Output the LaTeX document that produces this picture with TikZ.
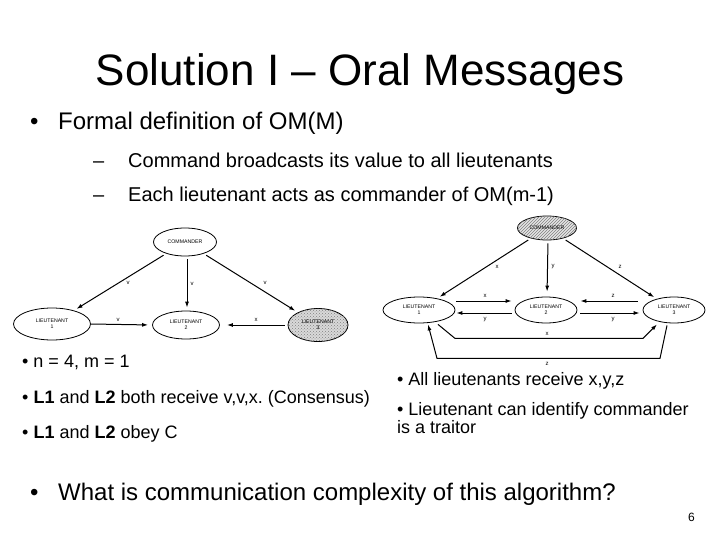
\documentclass[tikz,border=0pt]{standalone}
\usepackage{fontspec}
\setmainfont{Liberation Sans}
\usetikzlibrary{shapes.geometric,arrows.meta,patterns}
\frenchspacing
\begin{document}
\begin{tikzpicture}[x=1pt,y=-1pt,
  txt/.style={anchor=base west,inner sep=0pt},
  elli/.style={ellipse,draw,line width=0.8pt,inner sep=0pt,align=center,font=\fontsize{5.2}{5.8}\selectfont},
  arr/.style={line width=1pt,-{Latex[length=6pt,width=4pt]}},
  lab/.style={inner sep=0pt,font=\fontsize{6}{7}\selectfont},
  small/.style={font=\fontsize{18}{21}\selectfont}]
\useasboundingbox (0,0) rectangle (720,540);
% title
\node[anchor=base,inner sep=0pt,font=\fontsize{44}{50}\selectfont] (title) at (360,86) {Solution I – Oral Messages};
% bullets
\node[txt,font=\fontsize{24}{28}\selectfont] (b0) at (30,130) {•};
\node[txt,font=\fontsize{24}{28}\selectfont] (t1) at (58,130) {Formal definition of OM(M)};
\node[txt,font=\fontsize{20}{24}\selectfont] (d1) at (93,168) {–};
\node[txt,font=\fontsize{20}{24}\selectfont] (t2) at (128,168) {Command broadcasts its value to all lieutenants};
\node[txt,font=\fontsize{20}{24}\selectfont] (d2) at (93,202) {–};
\node[txt,font=\fontsize{20}{24}\selectfont] (t3) at (128,202) {Each lieutenant acts as commander of OM(m-1)};
% left diagram
\node[elli,minimum width=63pt,minimum height=28pt] (cA) at (185,242) {COMMANDER};
\node[elli,minimum width=77pt,minimum height=32pt] (a1) at (52,324) {LIEUTENANT\\1};
\node[elli,minimum width=67pt,minimum height=28pt] (a2) at (186,325) {LIEUTENANT\\2};
\node[elli,minimum width=60pt,minimum height=33pt,fill=gray!30,postaction={pattern=crosshatch dots,pattern color=gray}] (a3) at (318,325) {LIEUTENANT\\3};
\draw[arr,shorten <=3pt,shorten >=3pt] (cA) -- (a1);
\draw[arr,shorten <=3pt,shorten >=3pt] ([xshift=2pt]cA.south) -- ([xshift=1pt]a2.north);
\draw[arr,shorten <=3pt,shorten >=3pt] (cA) -- (a3);
\draw[arr,shorten >=4pt] (a1.east) -- (a2.west);
\draw[arr,shorten <=3pt,shorten >=7pt] (a3.west) -- (a2.east);
\node[lab] (la1) at (128,283) {v};
\node[lab] (la2) at (192,284) {v};
\node[lab] (la3) at (265,283) {v};
\node[lab] (la4) at (118,320) {v};
\node[lab] (la5) at (256,320) {x};
% right diagram
\node[elli,minimum width=59pt,minimum height=24pt,fill=gray!20,postaction={pattern=north east lines,pattern color=gray}] (cB) at (547,228) {COMMANDER};
\node[elli,minimum width=72pt,minimum height=26pt] (b1) at (419,310) {LIEUTENANT\\1};
\node[elli,minimum width=62pt,minimum height=26pt] (b2) at (546,310) {LIEUTENANT\\2};
\node[elli,minimum width=62pt,minimum height=26pt] (b3) at (674,310) {LIEUTENANT\\3};
\draw[arr,shorten <=3pt,shorten >=3pt] (cB) -- (b1);
\draw[arr,shorten <=3pt,shorten >=5pt] ([xshift=1pt]cB.south) -- ([xshift=1pt]b2.north);
\draw[arr,shorten <=3pt,shorten >=3pt] (cB) -- (b3);
\draw[arr,shorten <=1pt,shorten >=3pt] ([yshift=9pt]b1.east) -- ([yshift=9pt]b2.west);
\draw[arr,shorten <=3pt,shorten >=1pt] ([yshift=-3pt]b2.west) -- ([yshift=-3pt]b1.east);
\draw[arr,shorten <=5pt,shorten >=3pt] ([yshift=9pt]b3.west) -- ([yshift=9pt]b2.east);
\draw[arr,shorten <=3pt,shorten >=3pt] ([yshift=-3pt]b2.east) -- ([yshift=-3pt]b3.west);
\draw[arr] ([xshift=19pt,yshift=-1pt]b1.south) -- ([xshift=36pt,yshift=-15pt]b1.south) -- ([xshift=-31pt,yshift=-15pt]b3.south) -- ([xshift=-17pt,yshift=-1pt]b3.south);
\draw[arr] ([xshift=-7pt,yshift=-2pt]b3.south) -- ([xshift=-14pt,yshift=-35pt]b3.south) -- ([xshift=18pt,yshift=-35pt]b1.south) -- ([xshift=9pt,yshift=-1pt]b1.south);
\node[lab] (lb1) at (497,267) {x};
\node[lab] (lb2) at (553,267) {y};
\node[lab] (lb3) at (620,267) {z};
\node[lab] (lb4) at (485,296) {x};
\node[lab] (lb5) at (485,320) {y};
\node[lab] (lb6) at (613,296) {z};
\node[lab] (lb7) at (613,320) {y};
\node[lab] (lb8) at (547,334) {x};
\node[lab] (lb9) at (547,364) {z};
% lower texts
\node[txt,small] (s1) at (22,367) {• n = 4, m = 1};
\node[txt,small] (s2) at (22,403) {• \textbf{L1} and \textbf{L2} both receive v,v,x. (Consensus)};
\node[txt,small] (s3) at (22,438) {• \textbf{L1} and \textbf{L2} obey C};
\node[txt,small] (r1) at (397,385) {• All lieutenants receive x,y,z};
\node[txt,small] (r2) at (397,415) {• Lieutenant can identify commander};
\node[txt,small] (r3) at (397,433) {is a traitor};
\node[txt,font=\fontsize{24}{28}\selectfont] (q0) at (30,500) {•};
\node[txt,font=\fontsize{24}{28}\selectfont] (q1) at (58,500) {What is communication complexity of this algorithm?};
\node[txt,font=\fontsize{12}{14}\selectfont] (pg) at (688,521) {6};
\end{tikzpicture}
\end{document}
